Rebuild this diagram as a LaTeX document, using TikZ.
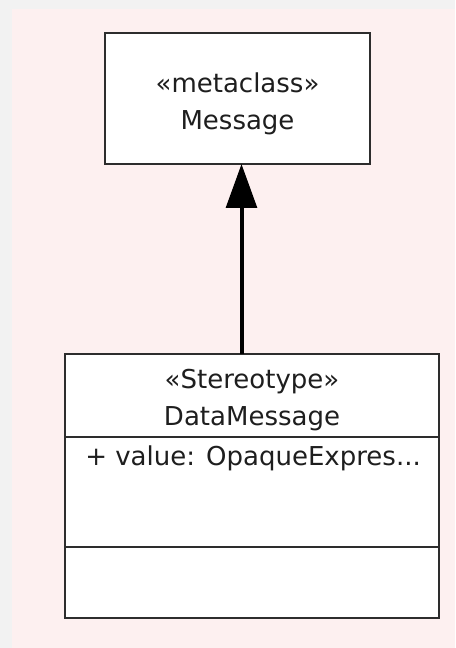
\documentclass[tikz,border=0pt]{standalone}
\usepackage{fontspec}
\setmainfont{DejaVu Sans}
\usepackage{tikz}
\usetikzlibrary{arrows.meta,positioning}
\usepackage{xcolor}

\definecolor{umlpink}{RGB}{253,240,240}
\definecolor{umlgrey}{RGB}{242,242,242}
\definecolor{umlline}{RGB}{45,45,45}

\tikzset{
  umlbox/.style={draw=umlline,fill=white,line width=2pt,inner sep=0pt,outer sep=0pt},
  umltxt/.style={inner sep=0pt,align=center,font=\fontsize{19.5}{27.75}\selectfont,
    text={rgb, 255:red, 30; green, 30; blue, 30}},
  inherit/.style={draw=black,line width=3pt,-{Triangle[length=33pt,width=23pt]}}
}

\begin{document}
\begin{tikzpicture}[x=0.75pt,y=0.75pt,yscale=-1,xscale=1]
%Shape: Background
\fill [umlgrey] (0,0) rectangle (455,648) ;
\fill [umlpink] (12,9) rectangle (455,648) ;
\useasboundingbox (0,0) rectangle (455,648) ;

%Shape: Class Message
\node [umlbox,minimum width=198.75pt,minimum height=98.25pt] (message) at (237.5,98.5) {};
% Text Node
\node [umltxt] (msgname) at ([yshift=4pt]message.center) {«metaclass»\\Message};

%Shape: Class DataMessage
\node [umlbox,minimum width=280.5pt,minimum height=62.25pt] (datamsg) at (252,395.5) {};
\node [umlbox,minimum width=280.5pt,minimum height=82.5pt,below=0pt of datamsg] (attrs) {};
\node [umlbox,minimum width=280.5pt,minimum height=53.25pt,below=0pt of attrs] (ops) {};
% Text Node
\node [umltxt] (dataname) at ([yshift=3.5pt]datamsg.center) {«Stereotype»\\DataMessage};
% Text Node
\node [umltxt,anchor=west] (value) at ([xshift=15pt,yshift=15.75pt]attrs.north west) {+ value: OpaqueExpres...};

%Straight Lines: generalization
\draw [inherit] ([xshift=3pt]message.south |- datamsg.north) -- ([xshift=3pt]message.south) ;

\end{tikzpicture}
\end{document}
